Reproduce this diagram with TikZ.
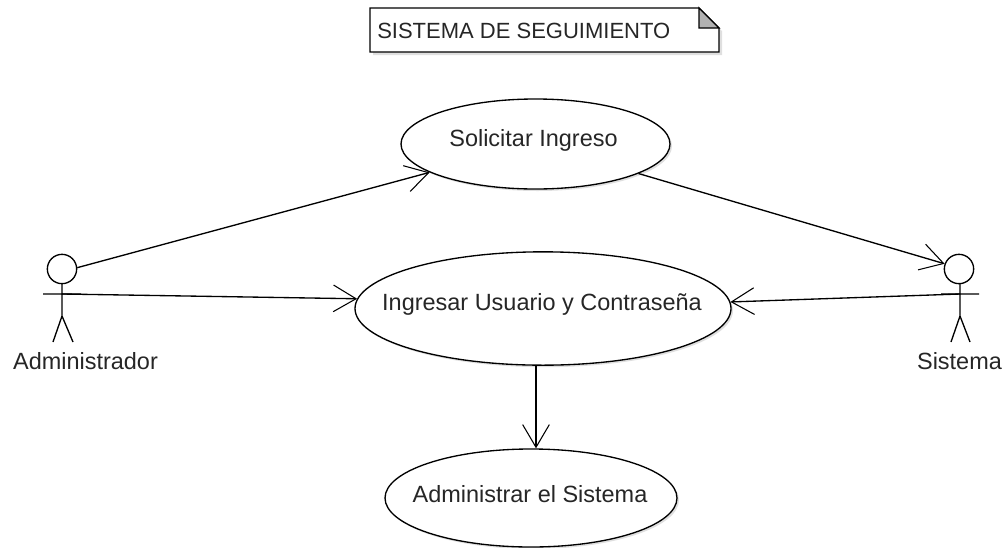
\documentclass[tikz,border=0pt]{standalone}
\usepackage{fontspec}
\setmainfont{Liberation Sans}
\usetikzlibrary{shapes.geometric,arrows.meta,shadows}
\tikzset{
 px/.style={x=0.75pt,y=-0.75pt},
 usecase/.style={ellipse,draw=black,fill=white,line width=1pt,inner sep=0pt,
   drop shadow={shadow xshift=1.5pt,shadow yshift=-1.5pt,fill=black!25,opacity=.5}},
 actorline/.style={line width=1pt,black},
 link/.style={line width=1pt,black,-{Straight Barb[length=17pt,width=20pt,line width=.8pt]}},
 lab/.style={font=\fontsize{17.6pt}{20pt}\selectfont,inner sep=0pt,text=black!85},
}
\begin{document}
\begin{tikzpicture}[px]
\useasboundingbox (0,0) rectangle (1008,547);
% note
\path[fill=black!25,opacity=.5] (373,11) -- (700,11) -- (722,31) -- (722,55) -- (373,55) -- cycle;
\draw[line width=1pt,fill=white] (370,8) -- (699,8) -- (719,28) -- (719,52) -- (370,52) -- cycle;
\draw[line width=1pt,fill=black!30] (699,8) -- (699,28) -- (719,28) -- cycle;
\node[lab,anchor=west,font=\fontsize{16.5pt}{20pt}\selectfont] (note) at (377,30.5) {SISTEMA DE SEGUIMIENTO};
% use cases
\node[usecase,minimum width=201.75pt,minimum height=67.5pt] (uc1) at (535.5,144) {};
\node[lab] (uc1t) at (533.5,140.5) {Solicitar Ingreso};
\node[usecase,minimum width=282pt,minimum height=85pt] (uc2) at (543,308.5) {};
\node[lab] (uc2t) at (542,304.5) {Ingresar Usuario y Contraseña};
\node[usecase,minimum width=219pt,minimum height=73.5pt] (uc3) at (531,498) {};
\node[lab] (uc3t) at (530,494) {Administrar el Sistema};
% actors
\coordinate (a1n) at (62,283);
\coordinate (a1h) at (62,316);
\coordinate (a1arm) at (43,294);
\coordinate (a1armc) at (62,294);
\coordinate (a1armr) at (81,294);
\coordinate (a1l) at (53,342);
\coordinate (a1r) at (73,342);
\draw[actorline] (a1n) -- (a1h) (a1arm) -- (a1armr) (a1l) -- (a1h) -- (a1r);
\node[circle,draw,fill=white,line width=1pt,minimum size=22pt,inner sep=0pt] (a1) at (62,269) {};
\node[lab] (a1t) at (85.5,361) {Administrador};
\coordinate (a2n) at (960,283);
\coordinate (a2h) at (960,316);
\coordinate (a2arm) at (979,294);
\coordinate (a2armc) at (960,294);
\coordinate (a2arml) at (941,294);
\coordinate (a2l) at (951,342);
\coordinate (a2r) at (970,342);
\draw[actorline] (a2n) -- (a2h) (a2arm) -- (a2arml) (a2l) -- (a2h) -- (a2r);
\node[circle,draw,fill=white,line width=1pt,minimum size=22pt,inner sep=0pt] (a2) at (959,269) {};
\node[lab] (a2t) at (959.5,361) {Sistema};
% connectors
\draw[link] (a1.5) -- (uc1.195.4);
\draw[link] (a1armc) -- (uc2.177.4);
\draw[link] (uc1.344) -- (a2.160);
\draw[link] (a2armc) -- (uc2.2.6);
\draw[link] (uc2.south -| 536,0) -- (uc3.north -| 536,0);
\end{tikzpicture}
\end{document}
